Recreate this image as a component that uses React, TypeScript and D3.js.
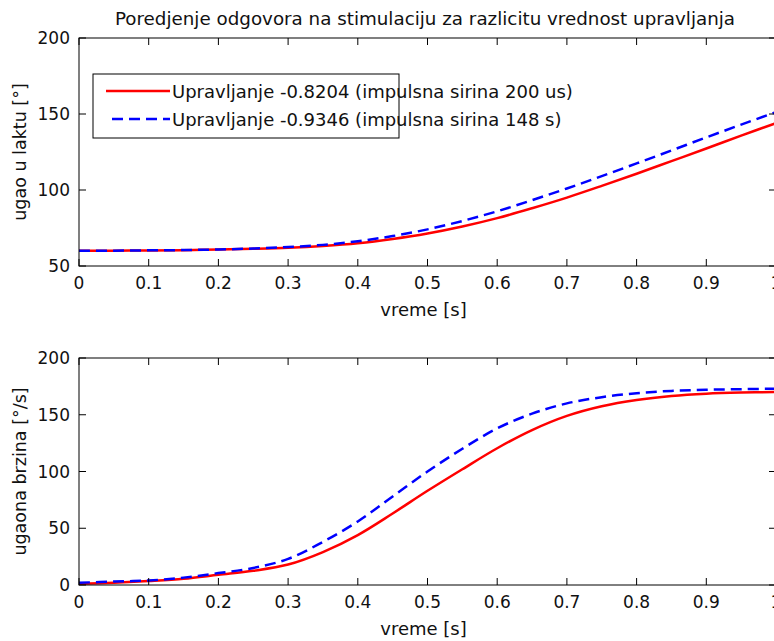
import * as d3 from "d3";

// vreme [s]
const time = [0, 0.05, 0.1, 0.15, 0.2, 0.25, 0.3, 0.35, 0.4, 0.45, 0.5, 0.55, 0.6, 0.65, 0.7, 0.75, 0.8, 0.85, 0.9, 0.95, 1.0];

// ugao u laktu [deg]
const angleRed = [60, 60.1, 60.2, 60.4, 60.8, 61.3, 62, 63.2, 65, 67.8, 71.4, 76, 81.5, 88, 95, 102.7, 110.7, 119, 127.3, 135.8, 144];
const angleBlue = [60, 60.1, 60.3, 60.5, 60.9, 61.5, 62.5, 63.9, 66.3, 69.7, 74.1, 79.6, 86, 93.3, 101, 109.1, 117.5, 126, 134.6, 143, 151.2];

// ugaona brzina [deg/s]
const speedRed = [1, 2, 3.5, 5.5, 9, 12.5, 18, 29, 44, 63, 83, 102, 120.5, 136.5, 149, 157.5, 163, 166.5, 168.5, 169.5, 170];
const speedBlue = [2, 3, 4, 6.5, 10.5, 15, 23, 38, 56, 78, 100, 120, 138, 151, 160, 165.5, 169, 171, 172, 172.5, 173];

const xTicks = [0, 0.1, 0.2, 0.3, 0.4, 0.5, 0.6, 0.7, 0.8, 0.9, 1];
const angleTicks = [50, 100, 150, 200];
const speedTicks = [0, 50, 100, 150, 200];

const legendLabels = [
  "Upravljanje -0.8204 (impulsna sirina 200 us)",
  "Upravljanje -0.9346 (impulsna sirina 148 s)",
];

const FONT = "DejaVu Sans, Arial, sans-serif";
const RED = "#ff0000";
const BLUE = "#0000ff";

const Panel = ({ top, bottom, yDomain, yTicks, seriesA, seriesB, yLabel }) => {
  const x = d3.scaleLinear().domain([0, 1]).range([79, 776]);
  const y = d3.scaleLinear().domain(yDomain).range([bottom, top]);
  const line = d3
    .line<number>()
    .x((_, i) => x(time[i]))
    .y((d) => y(d))
    .curve(d3.curveCatmullRom.alpha(0.5));
  const tl = 7;
  const [x0, x1] = x.range();
  return (
    <g>
      <path d={line(seriesA) || ""} fill="none" stroke={RED} strokeWidth={2.5} />
      <path d={line(seriesB) || ""} fill="none" stroke={BLUE} strokeWidth={2.5} strokeDasharray="11,6" />
      <rect x={x0} y={top} width={x1 - x0} height={bottom - top} fill="none" stroke="#000" strokeWidth={1} />
      {xTicks.map((t) => (
        <g key={"x" + t}>
          <line x1={x(t)} x2={x(t)} y1={bottom} y2={bottom - tl} stroke="#000" />
          <line x1={x(t)} x2={x(t)} y1={top} y2={top + tl} stroke="#000" />
          <text x={x(t)} y={bottom + 23} textAnchor="middle" fontSize={17} fontFamily={FONT} fill="#111">
            {String(t)}
          </text>
        </g>
      ))}
      {yTicks.map((v) => (
        <g key={"y" + v}>
          <line x1={x0} x2={x0 + tl} y1={y(v)} y2={y(v)} stroke="#000" />
          <line x1={x1} x2={x1 - tl} y1={y(v)} y2={y(v)} stroke="#000" />
          <text x={70} y={y(v) + 6} textAnchor="end" fontSize={17} fontFamily={FONT} fill="#111">
            {v}
          </text>
        </g>
      ))}
      <text x={(x0 + x1) / 2 - 4} y={bottom + 50} textAnchor="middle" fontSize={18} fontFamily={FONT} fill="#111">
        vreme [s]
      </text>
      <text
        transform={`translate(26,${(top + bottom) / 2}) rotate(-90)`}
        textAnchor="middle"
        fontSize={17.5}
        fontFamily={FONT}
        fill="#111"
      >
        {yLabel}
      </text>
    </g>
  );
};

export default function App() {
  return (
    <svg
      width={774}
      height={641}
      style={{ position: "absolute", left: 0, top: 0, background: "#fff" }}
    >
      <text x={425} y={25} textAnchor="middle" fontSize={18.3} fontFamily={FONT} fill="#111">
        Poredjenje odgovora na stimulaciju za razlicitu vrednost upravljanja
      </text>
      <Panel
        top={38}
        bottom={266}
        yDomain={[50, 200]}
        yTicks={angleTicks}
        seriesA={angleRed}
        seriesB={angleBlue}
        yLabel="ugao u laktu [°]"
      />
      <Panel
        top={358}
        bottom={585}
        yDomain={[0, 200]}
        yTicks={speedTicks}
        seriesA={speedRed}
        seriesB={speedBlue}
        yLabel="ugaona brzina [°/s]"
      />
      <g>
        <rect x={93} y={74} width={306} height={64} fill="#fff" stroke="#000" strokeWidth={1} />
        <line x1={106} x2={170} y1={91} y2={91} stroke={RED} strokeWidth={2.5} />
        <line x1={112} x2={170} y1={119} y2={119} stroke={BLUE} strokeWidth={2.5} strokeDasharray="11,6" />
        {legendLabels.map((l, i) => (
          <text key={l} x={172} y={98 + i * 28} fontSize={18} fontFamily={FONT} fill="#111">
            {l}
          </text>
        ))}
      </g>
    </svg>
  );
}
